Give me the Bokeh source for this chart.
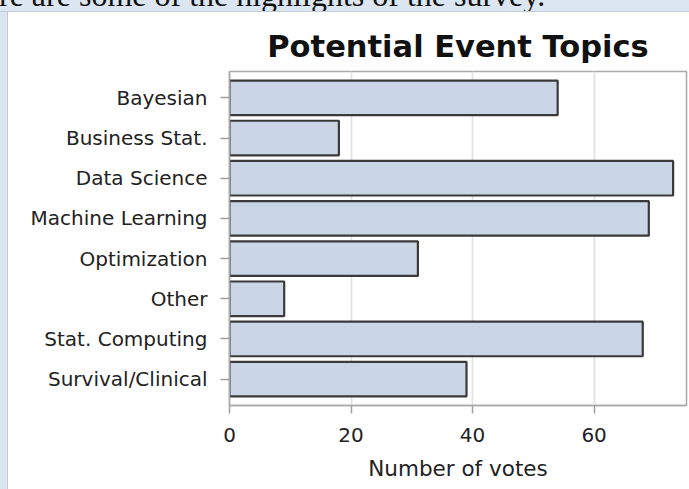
from bokeh.plotting import figure
from bokeh.models import FactorRange, Range1d, FixedTicker, Div
from bokeh.layouts import column, row
from bokeh.embed import file_html
from bokeh.resources import INLINE

# ---- data ----
categories = ["Bayesian", "Business Stat.", "Data Science", "Machine Learning",
              "Optimization", "Other", "Stat. Computing", "Survival/Clinical"]
votes = [54, 18, 73, 69, 31, 9, 68, 39]
x_ticks = [0, 20, 40, 60]
title_text = "Potential Event Topics"
x_label = "Number of votes"
intro_text = "re are some of the highlights of the survey."

PAGE_BLUE = "#DCE6F2"
PANEL_EDGE = "#C3CBD6"

TOP_H = 12
LEFT_W = 8
TOTAL_W, TOTAL_H = 689, 489
MAIN_H = TOTAL_H - TOP_H
W = TOTAL_W - LEFT_W

# ---- page strip above the chart panel, with the cut-off sentence ----
intro_html = (
    '<div style="position:relative; top:-21px; left:-1px; white-space:nowrap; '
    "font-family:'Liberation Serif', 'Times New Roman', serif; font-size:32px; "
    'line-height:32px; color:#111111;">' + intro_text + "</div>"
)
top = Div(text=intro_html, width=TOTAL_W, height=TOP_H, margin=0,
          styles={"overflow": "hidden", "background-color": PAGE_BLUE,
                  "box-sizing": "border-box",
                  "border-bottom": "1px solid " + PANEL_EDGE})

left = Div(text="", width=LEFT_W, height=MAIN_H, margin=0,
           styles={"background-color": PAGE_BLUE, "box-sizing": "border-box",
                   "border-right": "1.5px solid " + PANEL_EDGE})

# ---- main chart ----
FL, FR, FT, FB = 229 - LEFT_W, 686 - LEFT_W, 71 - TOP_H, 405 - TOP_H

p = figure(width=W, height=MAIN_H, output_backend="svg", toolbar_location=None,
           title=title_text,
           y_range=FactorRange(factors=categories[::-1], range_padding=0.155,
                               range_padding_units="absolute"),
           x_range=Range1d(0, 75.2),
           min_border_left=FL, min_border_right=W - FR,
           min_border_top=FT, min_border_bottom=MAIN_H - FB)

p.border_fill_color = "white"
p.background_fill_color = "white"
p.outline_line_color = "#A9A9A9"
p.outline_line_width = 1.5

p.title.align = "center"
p.title.text_font = "DejaVu Sans"
p.title.text_font_size = "30.5px"
p.title.text_font_style = "bold"
p.title.text_color = "#111111"
p.title.standoff = 15

p.hbar(y=categories, left=0, right=votes, height=0.86,
       fill_color="#CAD5E6", line_color="#3A3A3A", line_width=2.2)

p.xaxis.ticker = FixedTicker(ticks=x_ticks)
p.xgrid.ticker = FixedTicker(ticks=x_ticks)
p.xgrid.grid_line_color = "#E2E2E2"
p.xgrid.grid_line_width = 1.8
p.ygrid.grid_line_color = None

for ax in (p.xaxis[0], p.yaxis[0]):
    ax.axis_line_color = "#A9A9A9"
    ax.axis_line_width = 1.5
    ax.major_tick_line_color = "#A0A0A0"
    ax.major_tick_line_width = 1.5
    ax.major_tick_in = 0
    ax.minor_tick_line_color = None
    ax.major_label_text_font = "DejaVu Sans"
    ax.major_label_text_font_size = "20px"
    ax.major_label_text_color = "#222222"

p.yaxis.major_tick_out = 9
p.yaxis.major_label_standoff = 13
p.xaxis.major_tick_out = 8
p.xaxis.major_label_standoff = 14
p.xaxis.axis_label = x_label
p.xaxis.axis_label_text_font = "DejaVu Sans"
p.xaxis.axis_label_text_font_size = "21.5px"
p.xaxis.axis_label_text_font_style = "normal"
p.xaxis.axis_label_text_color = "#222222"
p.xaxis.axis_label_standoff = 11

layout = column(top, row(left, p, spacing=0, margin=0), spacing=0, margin=0)

open("out.html", "w").write(file_html(layout, INLINE))
